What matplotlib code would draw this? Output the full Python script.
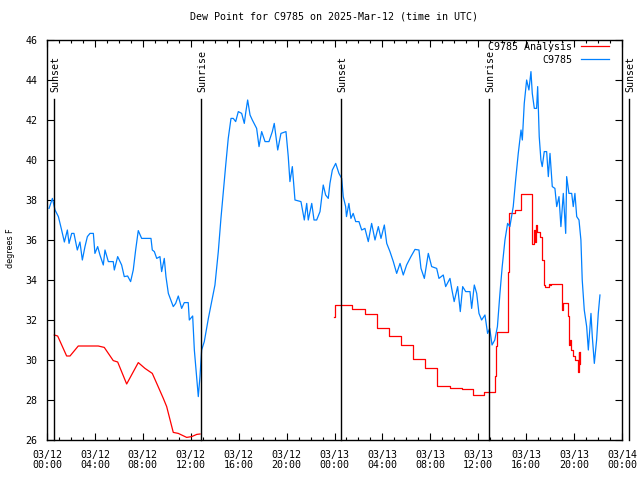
import matplotlib
matplotlib.use("Agg")
import numpy as np
import matplotlib.pyplot as plt
from matplotlib.ticker import MultipleLocator, FixedLocator

# hours since 03/12 00:00 UTC
obs_hours = [
    0.17, 0.45, 0.67, 0.95, 1.22, 1.45, 1.70, 1.84, 2.06, 2.25, 2.53, 2.75, 2.95, 3.17,
    3.37, 3.59, 3.87, 4.00, 4.23, 4.42, 4.70, 4.84, 5.12, 5.53, 5.62, 5.90, 6.23, 6.45,
    6.73, 6.98, 7.20, 7.40, 7.62, 7.90, 8.68, 8.79, 8.96, 9.16, 9.43, 9.57, 9.79, 9.93,
    10.13, 10.54, 10.74, 10.96, 11.24, 11.46, 11.79, 11.88, 12.16, 12.30, 12.49, 12.63,
    12.77, 12.91, 13.13, 13.47, 13.75, 14.02, 14.30, 14.52, 14.72, 14.92, 15.13, 15.36,
    15.55, 15.75, 15.97, 16.25, 16.47, 16.58, 16.75, 16.95, 17.14, 17.50, 17.70, 17.92,
    18.20, 18.53, 18.81, 18.97, 19.26, 19.53, 19.95, 20.14, 20.28, 20.48, 20.70, 21.20,
    21.48, 21.68, 21.81, 22.10, 22.29, 22.51, 22.79, 23.06, 23.26, 23.48, 23.62, 23.82,
    24.10, 24.37, 24.60, 24.73, 24.93, 25.00, 25.20, 25.37, 25.56, 25.77, 26.04, 26.27,
    26.54, 26.82, 27.10, 27.38, 27.66, 27.88, 28.16, 28.36, 28.63, 28.91, 29.19, 29.47,
    29.74, 30.02, 30.38, 30.72, 31.05, 31.22, 31.50, 31.83, 32.11, 32.53, 32.72, 33.08,
    33.28, 33.64, 33.78, 33.99, 34.28, 34.50, 34.70, 34.95, 35.31, 35.45, 35.67, 35.87,
    36.06, 36.28, 36.56, 36.78, 36.96, 37.15, 37.38, 37.60, 37.81, 38.00, 38.23, 38.45,
    38.64, 38.92, 39.12, 39.34, 39.57, 39.68, 39.84, 40.04, 40.23, 40.40, 40.51, 40.68,
    40.87, 40.96, 41.09, 41.23, 41.34, 41.51, 41.71, 41.85, 41.99, 42.18, 42.40, 42.55,
    42.74, 42.90, 43.10, 43.30, 43.38, 43.57, 43.80, 43.93, 44.07, 44.22, 44.41, 44.57,
    44.68, 44.85, 45.05, 45.19, 45.41, 45.52, 45.69, 45.88, 46.02, 46.16,
]
obs_dewpt = [
    37.58, 38.08, 37.50, 37.17, 36.50, 35.90, 36.50, 35.83, 36.33, 36.33, 35.50, 35.90, 35.00, 35.67,
    36.17, 36.33, 36.33, 35.33, 35.67, 35.25, 34.75, 35.50, 34.92, 34.92, 34.50, 35.17, 34.75, 34.17,
    34.20, 33.92, 34.50, 35.50, 36.47, 36.08, 36.08, 35.50, 35.42, 35.08, 35.17, 34.42, 35.08, 34.17,
    33.33, 32.67, 32.83, 33.20, 32.58, 32.87, 32.87, 32.00, 32.20, 30.50, 29.17, 28.17,
    29.17, 30.50, 30.92, 32.08, 32.92, 33.75, 35.42, 37.08, 38.42, 39.75, 41.08, 42.08,
    42.08, 41.92, 42.42, 42.33, 41.83, 42.33, 43.00, 42.25, 42.00, 41.58, 40.67, 41.42,
    40.92, 40.92, 41.42, 41.83, 40.50, 41.33, 41.42, 40.17, 38.92, 39.67, 38.00, 37.92,
    37.00, 37.83, 37.00, 37.83, 37.00, 37.00, 37.42, 38.75, 38.25, 38.08, 38.83, 39.50,
    39.83, 39.33, 39.08, 38.17, 37.67, 37.17, 37.83, 37.08, 37.33, 36.92, 36.92, 36.50,
    36.58, 35.92, 36.83, 36.00, 36.67, 36.08, 36.75, 35.83, 35.42, 34.92, 34.33, 34.83,
    34.25, 34.75, 35.17, 35.53, 35.50, 34.58, 34.08, 35.33, 34.67, 34.58, 34.08, 34.25,
    33.67, 34.08, 33.58, 32.92, 33.67, 32.42, 33.67, 33.42, 33.42, 32.58, 33.75, 33.33,
    32.33, 32.00, 32.25, 31.33, 31.58, 30.75, 31.00, 31.67, 33.33, 34.67, 36.00, 36.83,
    36.67, 37.67, 39.00, 40.33, 41.50, 41.00, 42.83, 44.00, 43.50, 44.42, 43.33, 42.58,
    42.58, 43.67, 41.17, 40.00, 39.67, 40.42, 40.42, 39.17, 40.33, 38.67, 38.58, 37.67,
    38.17, 36.67, 38.33, 36.33, 39.17, 38.33, 38.33, 37.67, 38.33, 37.17, 37.00, 36.00,
    34.00, 32.50, 31.67, 30.50, 32.33, 31.17, 29.83, 31.00, 32.33, 33.25,
]

# analysis, day 1 (linear segments)
ana1_hours = [0.61, 0.89, 1.64, 1.92, 2.61, 4.28, 4.78, 5.53, 5.90, 6.65, 7.62, 8.18,
              8.79, 9.16, 9.71, 9.99, 10.54, 10.96, 11.66, 12.08, 12.50, 12.77]
ana1_dewpt = [31.25, 31.20, 30.20, 30.20, 30.70, 30.70, 30.63, 29.97, 29.90, 28.80, 29.87, 29.58,
              29.33, 28.83, 28.08, 27.67, 26.38, 26.33, 26.13, 26.17, 26.28, 26.30]

# analysis, day 2 (stepped)
ana2_hours = [23.98, 24.00, 25.43, 26.54, 27.52, 28.55, 29.52, 30.58, 31.55, 32.53, 33.64,
              34.62, 35.58, 36.48, 37.40, 37.47, 37.55, 38.50, 38.60, 39.07, 39.57, 40.51,
              40.62, 40.72, 40.80, 40.90, 41.15, 41.34, 41.51, 41.57, 41.90, 42.00, 42.10,
              42.96, 43.02, 43.10, 43.52, 43.56, 43.65, 43.74, 43.93, 44.10, 44.30, 44.38,
              44.45, 44.49]
ana2_dewpt = [32.15, 32.75, 32.55, 32.30, 31.60, 31.20, 30.73, 30.03, 29.58, 28.72, 28.60,
              28.55, 28.25, 28.38, 29.20, 30.70, 31.40, 34.40, 37.35, 37.50, 38.28, 35.80,
              36.50, 35.90, 36.75, 36.40, 36.15, 35.00, 33.75, 33.65, 33.80, 33.75, 33.80,
              33.00, 32.50, 32.85, 32.20, 30.75, 31.00, 30.50, 30.20, 30.00, 29.42, 30.40,
              29.80, 30.42]

sun_hours = [0.61, 12.88, 24.57, 36.92, 48.60]
sun_labels = ["Sunset", "Sunrise", "Sunset", "Sunrise", "Sunset"]

xtick_hours = list(range(0, 49, 4))
xtick_labels = ["03/12\n00:00", "03/12\n04:00", "03/12\n08:00", "03/12\n12:00",
                "03/12\n16:00", "03/12\n20:00", "03/13\n00:00", "03/13\n04:00",
                "03/13\n08:00", "03/13\n12:00", "03/13\n16:00", "03/13\n20:00",
                "03/14\n00:00"]

plt.rcParams["font.family"] = ["DejaVu Sans Mono"]
plt.rcParams["font.size"] = 7.2

fig = plt.figure(figsize=(6.4, 4.8), dpi=100)
ax = fig.add_axes([47 / 640, 40 / 480, 575 / 640, 400 / 480])

ax.plot(ana1_hours, ana1_dewpt, color="#ff0000", lw=0.9, label="C9785 Analysis")
ax.plot(ana2_hours, ana2_dewpt, color="#ff0000", lw=0.9, drawstyle="steps-post")
ax.plot(obs_hours, obs_dewpt, color="#0080ff", lw=0.9, label="C9785")

for t, lab in zip(sun_hours, sun_labels):
    ax.plot([t, t], [26, 43.05], color="black", lw=1.0, clip_on=False)
    ax.text(t + 0.08, 43.4, lab, rotation=90, ha="center", va="bottom")

ax.set_xlim(0, 48)
ax.set_ylim(26, 46)
ax.xaxis.set_major_locator(FixedLocator(xtick_hours))
ax.set_xticklabels(xtick_labels, linespacing=1.05)
ax.xaxis.set_minor_locator(MultipleLocator(1))
ax.yaxis.set_major_locator(MultipleLocator(2))

ax.tick_params(which="both", direction="in", top=True, right=True, width=0.8)
ax.tick_params(which="major", length=5, pad=7)
ax.tick_params(which="minor", length=2.5)
for s in ax.spines.values():
    s.set_linewidth(1.0)

ax.set_ylabel("degrees F", family="DejaVu Sans", fontsize=5.8)
ax.yaxis.set_label_coords(-32 / 575, 0.48)
ax.set_title("Dew Point for C9785 on 2025-Mar-12 (time in UTC)", fontsize=7.2, pad=15)

ax.legend(loc="upper right", bbox_to_anchor=(0.98, 1.0), frameon=False,
          markerfirst=False, handlelength=2.8, handletextpad=0.8,
          labelspacing=0.3, borderaxespad=0.0, borderpad=0.2)

fig.savefig("out.png", dpi=100)
